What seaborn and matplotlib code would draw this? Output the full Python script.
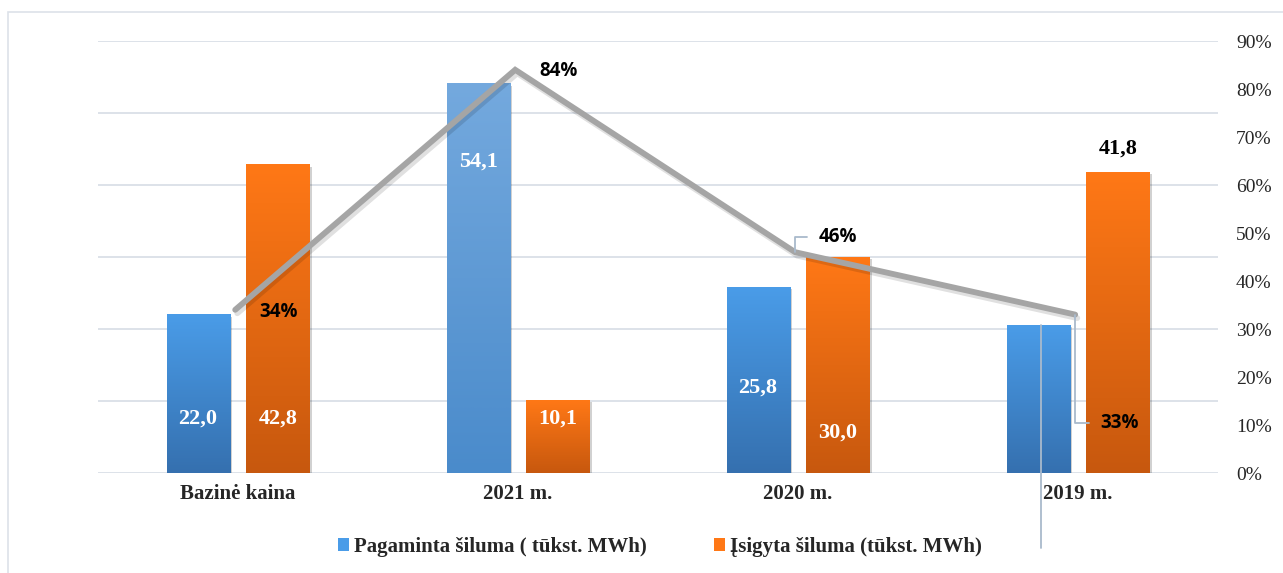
import numpy as np
import pandas as pd
import matplotlib
matplotlib.use('Agg')
import matplotlib.pyplot as plt
import matplotlib.patheffects as pe
from matplotlib.patches import Patch, Rectangle
from matplotlib.colors import LinearSegmentedColormap
import seaborn as sns

# Data
categories = ['Bazinė kaina', '2021 m.', '2020 m.', '2019 m.']
series = ['Pagaminta šiluma ( tūkst. MWh)', 'Įsigyta šiluma (tūkst. MWh)']
produced = [22.0, 54.1, 25.8, 20.5]
purchased = [42.8, 10.1, 30.0, 41.8]
produced_labels = ['22,0', '54,1', '25,8', '']
purchased_labels = ['42,8', '10,1', '30,0', '41,8']
share = [0.34, 0.84, 0.46, 0.33]
share_labels = ['34%', '84%', '46%', '33%']
pct_ticks = [0, 0.1, 0.2, 0.3, 0.4, 0.5, 0.6, 0.7, 0.8, 0.9]

df = pd.DataFrame({
    'kategorija': categories * 2,
    'serija': [series[0]] * len(categories) + [series[1]] * len(categories),
    'reiksme': produced + purchased,
})

# styling
blue = ('#3570AF', '#4A9CE8')     # bottom, top
blue_light = ('#4A8BCB', '#74A9DE')
orange = ('#C7580E', '#FF7816')
line_col = '#A5A5A5'
grid_col = '#DDE2E9'
leader_col = '#A9BACC'

sns.set_style('white')
plt.rcParams['font.family'] = ['Liberation Serif', 'DejaVu Serif']

fig = plt.figure(figsize=(12.83, 5.73), dpi=100)
ax = fig.add_axes([98 / 1283, 100 / 573, 1120 / 1283, 432 / 573])

sns.barplot(data=df, x='kategorija', y='reiksme', hue='serija', order=categories,
            hue_order=series, palette=[blue[1], orange[1]], width=0.57, gap=0.21,
            errorbar=None, legend=False, ax=ax)

# replace flat fills by vertical gradients
grad = np.linspace(0, 1, 256).reshape(-1, 1)
for i, cont in enumerate(ax.containers):
    for j, rect in enumerate(cont):
        cols = (blue_light if j == 1 else blue) if i == 0 else orange
        cmap = LinearSegmentedColormap.from_list('g', list(cols))
        x0, w, h = rect.get_x(), rect.get_width(), rect.get_height()
        rect.set_path_effects([pe.SimplePatchShadow(offset=(1.5, -1.5), alpha=0.18,
                                                     shadow_rgbFace='black')])
        ax.imshow(grad, extent=[x0, x0 + w, 0, h], origin='lower', aspect='auto',
                  cmap=cmap, zorder=2.5)

ax.set_xlim(-0.5, len(categories) - 0.5)
ax.set_ylim(0, 60)
ax.set_yticks(np.arange(0, 61, 10))
ax.set_yticklabels([])
ax.yaxis.grid(True, color=grid_col, lw=1.4)
ax.set_axisbelow(True)
ax.tick_params(axis='both', length=0)
ax.tick_params(axis='x', pad=8, labelsize=15)
for t in ax.get_xticklabels():
    t.set_fontweight('bold')
ax.set_xlabel('')
ax.set_ylabel('')
for s in ax.spines.values():
    s.set_visible(False)

# bar value labels (manual placement like the original)
prod_y = [7.6, 43.3, 11.8, None]
purch_y = [7.6, 7.6, 5.6, 45.1]
for i, (vals, labs, ys) in enumerate([(produced, produced_labels, prod_y),
                                       (purchased, purchased_labels, purch_y)]):
    for j, rect in enumerate(ax.containers[i]):
        if not labs[j]:
            continue
        cx = rect.get_x() + rect.get_width() / 2
        color = 'black' if ys[j] > vals[j] else 'white'
        ax.text(cx, ys[j], labs[j], ha='center', va='center', color=color,
                fontsize=16, fontweight='bold', zorder=5)

# stray leader line of the hidden 2019 label
r = ax.containers[0][3]
ax.plot([r.get_x() + r.get_width() / 2 + 0.01] * 2, [produced[3], -10.4],
        color=leader_col, lw=1.3, clip_on=False, zorder=6)

# share line on the secondary axis
ax2 = ax.twinx()
sns.lineplot(x=np.arange(len(categories)) - 0.01, y=share, ax=ax2, color=line_col, lw=4.2,
             solid_capstyle='round', solid_joinstyle='miter',
             path_effects=[pe.SimpleLineShadow(offset=(1.5, -2.5), alpha=0.12, shadow_color='black'),
                           pe.Normal()])
ax2.set_xlim(-0.5, len(categories) - 0.5)
ax2.set_ylim(0, 0.9)
ax2.set_yticks(pct_ticks)
ax2.set_yticklabels([f'{int(round(v * 100))}%' for v in pct_ticks], fontsize=14)
ax2.tick_params(axis='y', length=0, pad=13)
for s in ax2.spines.values():
    s.set_visible(False)

lab_font = dict(family=['Open Sans', 'DejaVu Sans'], fontweight='bold', fontsize=13.5, color='black')
label_pos = [(0.146, 0.335), (1.144, 0.8375), (2.143, 0.492), (3.15, 0.104)]
for j, (txt, (lx, ly)) in enumerate(zip(share_labels, label_pos)):
    if j in (2, 3):
        ax2.annotate(txt, xy=(j - 0.01, share[j]), xytext=(lx, ly), ha='center', va='center',
                     zorder=6, **lab_font,
                     arrowprops=dict(arrowstyle='-', color=leader_col, lw=1.3,
                                     shrinkA=6, shrinkB=0, relpos=(0, 0.5),
                                     connectionstyle='angle,angleA=0,angleB=90,rad=0'))
    else:
        ax2.text(lx, ly, txt, ha='center', va='center', zorder=6, **lab_font)

handles = [Patch(facecolor=blue[1], edgecolor='none'), Patch(facecolor=orange[1], edgecolor='none')]
fig.legend(handles, series, loc='center', bbox_to_anchor=(660 / 1283, 1 - 547 / 573),
           ncol=2, frameon=False, prop={'weight': 'bold', 'size': 15},
           handlelength=0.55, handleheight=0.55, handletextpad=0.25, columnspacing=3.2)

fig.patches.append(Rectangle((8 / 1283, -0.05), 1.1, 1.05 - 12 / 573, transform=fig.transFigure,
                             fill=False, ec='#DDE2E9', lw=1.2))

fig.savefig('out.png', dpi=100)
